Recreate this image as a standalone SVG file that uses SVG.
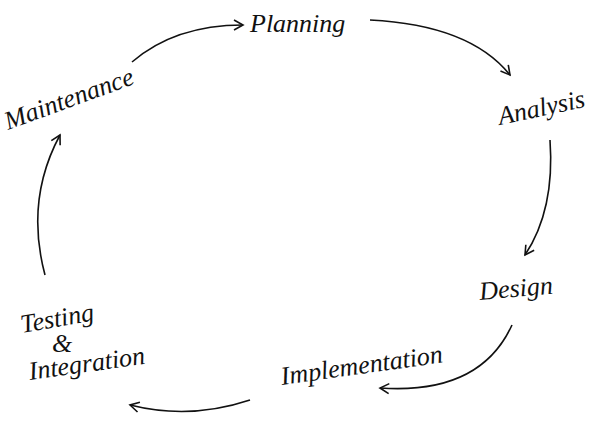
<svg xmlns="http://www.w3.org/2000/svg" width="604" height="427" viewBox="0 0 604 427">
<defs>
<marker id="ah" viewBox="0 0 12 12" refX="10" refY="6" markerWidth="12" markerHeight="12" markerUnits="userSpaceOnUse" orient="auto">
<path d="M1,1 L10,6 L1,11" fill="none" stroke="#111" stroke-width="1.6"/>
</marker>
<style>
text{font-family:"Liberation Serif",serif;font-style:italic;font-size:26px;fill:#111}
.c{fill:none;stroke:#111;stroke-width:1.6;marker-end:url(#ah)}
</style>
</defs>
<rect width="604" height="427" fill="#fff"/>
<g id="planning"><text x="250" y="32">Planning</text></g>
<g id="analysis"><text x="500" y="125" transform="rotate(-12 500 125)">Analysis</text></g>
<g id="design"><text x="480" y="300" transform="rotate(-5 480 300)">Design</text></g>
<g id="implementation"><text x="282" y="385" transform="rotate(-8 282 385)">Implementation</text></g>
<g id="testing"><text x="22" y="333" transform="rotate(-10 22 333)">Testing</text><text x="52" y="352">&amp;</text><text x="30" y="380" transform="rotate(-8 30 380)">Integration</text></g>
<g id="maintenance"><text x="8" y="130" transform="rotate(-20 8 130)">Maintenance</text></g>
<g id="connectors">
<path class="c" d="M132,62 Q175,25 243,25"/>
<path class="c" d="M370,20 Q470,25 510,75"/>
<path class="c" d="M550,140 Q555,210 525,255"/>
<path class="c" d="M512,325 Q480,395 380,388"/>
<path class="c" d="M250,400 Q190,420 130,405"/>
<path class="c" d="M45,275 Q25,200 60,135"/>
</g>
</svg>
